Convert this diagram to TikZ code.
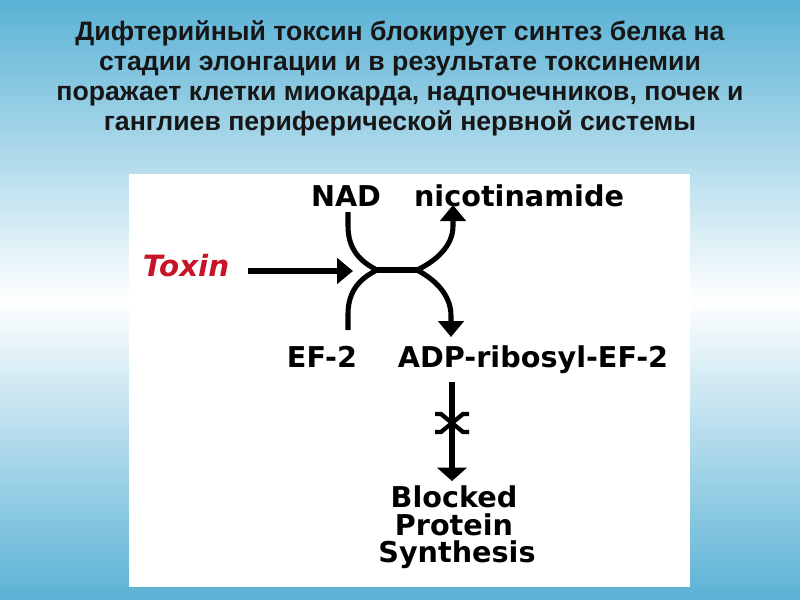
\documentclass[tikz,border=0pt]{standalone}
\usepackage{fontspec}
\setmainfont{Liberation Sans}
\newfontfamily\djfont{DejaVu Sans}
\usetikzlibrary{arrows.meta}
\definecolor{bgblue}{RGB}{90,178,213}
\definecolor{toxred}{RGB}{200,20,40}
\definecolor{titleblack}{RGB}{22,22,22}
\tikzset{
  titleline/.style={font=\fontsize{20}{22.5}\selectfont\bfseries, text=titleblack, anchor=base, inner sep=0pt},
  lbl/.style={font=\djfont\fontsize{21.5}{24}\selectfont\bfseries, anchor=base, inner sep=0pt},
  toxlbl/.style={lbl, font=\djfont\fontsize{22}{24}\selectfont\bfseries\itshape, text=toxred},
  conn/.style={line width=3.8pt, line cap=butt},
  barline/.style={line width=5pt},
  tipped/.style={conn, -{Triangle[length=12pt,width=19pt]}},
  bigtip/.style={conn, line width=4pt, -{Triangle[length=10pt,width=22pt]}},
  crossline/.style={line width=3.2pt, line join=miter}
}
\begin{document}
\begin{tikzpicture}[x=0.75pt,y=-0.75pt]
  \useasboundingbox (0,0) rectangle (800,600);
  % background
  \shade[top color=bgblue, bottom color=white] (0,0) rectangle (800,301);
  \shade[top color=white, bottom color=bgblue] (0,300) rectangle (800,600);
  \fill[white] (129,174) rectangle (690,587);
  % title
  \node[titleline] (t1) at (400,40) {Дифтерийный токсин блокирует синтез белка на};
  \node[titleline] (t2) at (400,70) {стадии элонгации и в результате токсинемии};
  \node[titleline] (t3) at (400,100) {поражает клетки миокарда, надпочечников, почек и};
  \node[titleline] (t4) at (400,130) {ганглиев периферической нервной системы};
  % labels
  \node[lbl] (nad) at (346,206) {NAD};
  \node[lbl] (nic) at (519,206) {nicotinamide};
  \node[toxlbl] (tox) at (186,276) {Toxin};
  \node[lbl] (ef) at (322,367) {EF-2};
  \node[lbl] (adp) at (533,367) {ADP-ribosyl-EF-2};
  \node[lbl] (b1) at (454,507) {Blocked};
  \node[lbl] (b2) at (454,535) {Protein};
  \node[lbl] (b3) at (457,562) {Synthesis};
  % junction points
  \coordinate (nadtop) at (348,212);
  \coordinate (eftop) at (348,330);
  \coordinate (jl) at (377,270);
  \coordinate (jr) at (417,270);
  \coordinate (nictip) at (453,205);
  \coordinate (adptip) at (451,337);
  \coordinate (toxstart) at (248,271);
  \coordinate (toxtip) at (353,271);
  \coordinate (vtop) at (452,382);
  \coordinate (vtip) at (452,481);
  % connectors
  \draw[tipped] (toxstart) -- (toxtip);
  \draw[conn] (nadtop) -- ++(0,14) .. controls (348,250) and (361,262) .. (jl);
  \draw[conn] (eftop) -- ++(0,-16) .. controls (348,290) and (361,278) .. (jl);
  \draw[barline] (jl) -- (jr);
  \draw[tipped] (jr) .. controls (436,261) and (453,246) .. (453,226) -- (nictip);
  \draw[tipped] (jr) .. controls (434,279) and (451,294) .. (451,316) -- (adptip);
  \draw[bigtip] (vtop) -- (vtip);
  % blocking cross
  \draw[crossline] (435,414) -- (441,414) -- (463,432) -- (469,432);
  \draw[crossline] (435,432) -- (441,432) -- (463,414) -- (469,414);
\end{tikzpicture}
\end{document}
